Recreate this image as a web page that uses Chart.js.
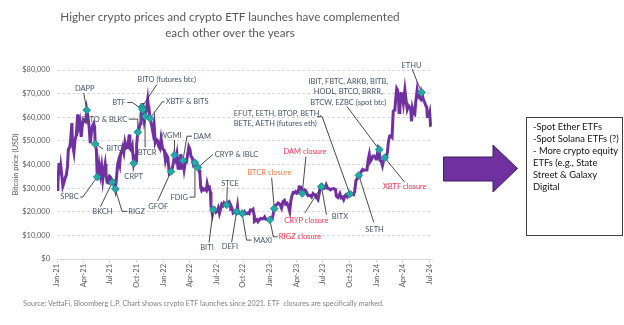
<!DOCTYPE html>
<html>
<head>
<meta charset="utf-8">
<script src="https://cdn.jsdelivr.net/npm/chart.js@4.4.1/dist/chart.umd.min.js"></script>
<style>
  html, body { margin: 0; padding: 0; background: #fff; }
  #wrap { position: relative; width: 624px; height: 325px; overflow: hidden; font-family: Lato, "Liberation Sans", sans-serif; }
  #chart { position: absolute; left: 0; top: 0; }
  #title { position: absolute; left: 0; top: 8px; width: 460px; text-align: center; font-size: 11.7px; line-height: 16px; color: #595959; }
  #source { position: absolute; left: 23px; top: 299px; font-size: 7.2px; color: #7f7f7f; white-space: nowrap; }
  #arrow { position: absolute; left: 0; top: 0; }
  #box { position: absolute; left: 526px; top: 117px; width: 97px; height: 119px; border: 1px solid #404040; box-sizing: border-box;
         padding: 3px 0 0 6px; font-size: 9.4px; line-height: 12px; color: #111; white-space: nowrap; }
</style>
</head>
<body>
<div id="wrap">
  <canvas id="chart" width="624" height="325"></canvas>
  <div id="title">Higher crypto prices and crypto ETF launches have complemented<br>each other over the years</div>
  <div id="source">Source: VettaFi, Bloomberg L.P. Chart shows crypto ETF launches since 2021. ETF&nbsp; closures are specifically marked.</div>
  <svg id="arrow" width="624" height="325">
    <polygon points="443.5,157 493,157 493,145 517.5,168.5 493,192 493,181 443.5,181" fill="#7030A0" stroke="#3f1f5f" stroke-width="1"/>
  </svg>
  <div id="box">-Spot Ether ETFs<br>-Spot Solana ETFs (?)<br>- More crypto equity<br>ETFs (e.g., State<br>Street &amp; Galaxy<br>Digital</div>
</div>
<script>
// bitcoin price (approximate closes)
const dates2021 = [
  '01-01','01-04','01-08','01-11','01-14','01-17','01-21','01-25','01-29','02-02',
  '02-06','02-09','02-13','02-16','02-21','02-23','02-28','03-04','03-08','03-13',
  '03-16','03-20','03-25','03-28','04-01','04-05','04-09','04-13','04-17','04-21',
  '04-25','04-29','05-03','05-07','05-10','05-12','05-16','05-19','05-23','05-26',
  '05-30','06-03','06-07','06-11','06-15','06-18','06-22','06-26','06-30','07-03',
  '07-07','07-10','07-14','07-17','07-20','07-24','07-28','07-31','08-04','08-07',
  '08-11','08-14','08-18','08-22','08-26','08-30','09-03','09-06','09-08','09-12',
  '09-16','09-21','09-25','09-29','10-01','10-05','10-09','10-13','10-16','10-19',
  '10-20','10-22','10-27','10-30','11-03','11-08','11-10','11-12','11-16','11-19',
  '11-22','11-26','11-30','12-04','12-08','12-12','12-16','12-20','12-24','12-28',
  '12-31'];
const close2021 = [
  29400,31900,40600,35500,39200,36000,30800,32300,34300,35500,
  39300,46400,47100,49200,57500,48800,45100,50500,52400,61200,
  56100,58300,51700,55900,59000,58700,58200,63000,60100,56100,
  49000,53500,56400,57400,55800,48700,46400,34700,34700,39300,
  35700,39200,33600,37300,40200,35800,32500,32200,35000,34700,
  33700,32500,32800,31400,29700,34300,40000,41600,39700,44600,
  45600,47100,45000,49300,46900,47100,50000,52700,46800,46100,
  47800,40500,42700,41500,48100,53700,54900,57300,60900,64300,
  66000,63200,58400,60400,62900,67500,64900,64100,59500,58100,
  56300,53600,57000,49300,50600,50100,47600,46700,50800,47600,
  46300];

const dates2022 = [
  '01-04','01-08','01-12','01-16','01-21','01-24','01-27','02-01','02-05','02-08',
  '02-12','02-16','02-20','02-24','02-28','03-02','03-06','03-09','03-13','03-17',
  '03-21','03-25','03-29','04-02','04-06','04-10','04-14','04-19','04-24','04-29',
  '05-03','05-06','05-09','05-12','05-16','05-20','05-24','05-28','05-31','06-04',
  '06-08','06-11','06-13','06-18','06-21','06-25','06-30','07-04','07-08','07-12',
  '07-16','07-20','07-24','07-28','08-01','08-06','08-10','08-14','08-18','08-20',
  '08-24','08-28','09-01','09-05','09-09','09-12','09-14','09-18','09-22','09-28',
  '10-02','10-06','10-10','10-14','10-18','10-22','10-26','10-30','11-04','11-08',
  '11-09','11-13','11-17','11-21','11-25','11-30','12-05','12-10','12-14','12-18',
  '12-22','12-27'];
const close2022 = [
  46000,41700,43900,43100,36300,36700,37000,38700,41400,44000,
  42200,44600,38400,38300,43200,44400,38400,41700,37800,40900,
  41000,44300,47500,46400,43200,42800,39900,40800,39500,38700,
  37700,36000,30100,29000,29800,29200,29600,29000,31800,29700,
  30200,28400,22500,19000,20900,21400,19800,20200,21600,19300,
  21200,23200,22600,23800,23300,22900,23900,24300,23300,21200,
  21500,19600,20100,19800,20000,22400,20200,19400,19400,19300,
  19300,20000,19100,19200,19500,19200,20700,20600,21100,18500,
  15900,16300,16700,15800,16500,17200,17000,17100,17800,16800,
  16800,16700];

const dates2023 = [
  '01-01','01-05','01-09','01-12','01-16','01-20','01-24','01-29','02-02','02-06',
  '02-10','02-15','02-20','02-24','03-01','03-05','03-10','03-14','03-18','03-22',
  '03-26','03-30','04-03','04-07','04-11','04-14','04-18','04-22','04-26','04-30',
  '05-04','05-08','05-12','05-16','05-20','05-24','05-29','06-02','06-06','06-10',
  '06-15','06-20','06-23','06-27','07-01','07-06','07-10','07-13','07-18','07-23',
  '07-28','08-02','08-08','08-14','08-17','08-22','08-29','09-02','09-07','09-11',
  '09-15','09-19','09-24','09-28','10-02','10-06','10-10','10-15','10-19','10-23',
  '10-27','11-02','11-06','11-09','11-15','11-20','11-25','11-30','12-04','12-08',
  '12-11','12-15','12-20','12-25','12-31'];
const close2023 = [
  16600,16800,17200,18800,21300,22700,22900,23700,23400,22800,
  21600,24300,24800,23200,23600,22400,20200,24700,26900,28200,
  28000,28500,27800,27900,30300,30500,30400,27700,28400,29300,
  29000,27700,26800,27000,26900,26300,27700,27200,27200,25900,
  25100,28300,30700,30600,30600,29900,30400,31400,29900,29800,
  29300,29700,29800,29400,26600,26000,27700,25900,26200,25100,
  26600,27200,26300,27000,27500,27900,27400,27200,28700,33100,
  33900,35400,35000,36700,37900,37500,37700,37700,41900,44200,
  41200,42000,43600,43600,42300];

const dates2024 = [
  '01-03','01-08','01-11','01-14','01-18','01-22','01-26','01-30','02-04','02-08',
  '02-12','02-16','02-20','02-24','02-28','03-03','03-05','03-08','03-11','03-14',
  '03-17','03-19','03-22','03-26','03-30','04-03','04-08','04-12','04-16','04-20',
  '04-24','04-28','05-01','05-04','05-08','05-12','05-15','05-20','05-24','05-28',
  '06-01','06-04','06-07','06-11','06-15','06-18','06-22','06-24','06-28','07-02',
  '07-05','07-08'];
const close2024 = [
  42800,47000,46300,41700,41300,39500,41800,42900,42600,45300,
  49900,52100,52200,51600,62400,63100,63800,68300,72100,71400,
  68400,62000,63800,70000,69900,66000,71600,67200,63400,64900,
  64300,63100,58300,63900,62000,61400,66200,71400,68500,68300,
  67700,70500,69300,67300,66200,65100,64300,60300,60300,62100,
  56600,56700];

// ETF launches / closures marked on the line
const launchLabels = [
  'DAPP', 'BITQ', 'SPBC', 'BKCH', 'RIGZ', 'CRPT', 'SATO & BLKC', 'BITO (futures btc)', 'BTF', 'BTCR',
  'XBTF & BITS', 'GFOF', 'WGMI', 'DAM', 'FDIG', 'CRYP & IBLC', 'BITI', 'STCE', 'DEFI', 'MAXI',
  'RIGZ closure', 'BTCR closure', 'DAM closure', 'CRYP closure', 'BITX',
  ['EFUT, EETH, BTOP, BETH,', 'BETE, AETH (futures eth)'], 'SETH',
  ['IBIT, FBTC, ARKB, BITB,', 'HODL, BTCO, BRRR,', 'BTCW, EZBC (spot btc)'], 'XBTF closure', 'ETHU'];
const launchDates = [
  '2021-04-13','2021-05-12','2021-05-19','2021-07-10','2021-07-20','2021-09-21','2021-10-05','2021-10-19','2021-10-22','2021-10-30',
  '2021-11-16','2022-01-27','2022-02-08','2022-03-09','2022-04-19','2022-04-29','2022-06-21','2022-08-06','2022-09-09','2022-09-28',
  '2023-01-01','2023-01-16','2023-04-22','2023-06-27','2023-06-27',
  '2023-10-02','2023-11-02','2024-01-11','2024-01-30','2024-06-04'];
const launchPrices = [
  63000,48700,34700,32500,29700,40500,53700,64300,63200,60400,
  59500,37000,44000,41700,40800,38700,20900,22900,20000,19300,
  16600,21300,27700,30600,30600,
  27500,35400,46300,42900,70500];

// axis ticks
const tickDates = ['2021-01-01','2021-04-01','2021-07-01','2021-10-01','2022-01-01','2022-04-01','2022-07-01','2022-10-01',
  '2023-01-01','2023-04-01','2023-07-01','2023-10-01','2024-01-01','2024-04-01','2024-07-01'];
const tickLabels = ['Jan-21','Apr-21','Jul-21','Oct-21','Jan-22','Apr-22','Jul-22','Oct-22',
  'Jan-23','Apr-23','Jul-23','Oct-23','Jan-24','Apr-24','Jul-24'];

const DAY0 = Date.UTC(2021, 0, 1);
const toDay = s => (Date.UTC(+s.slice(0, 4), +s.slice(5, 7) - 1, +s.slice(8, 10)) - DAY0) / 864e5;

const series = [];
[[2021, dates2021, close2021], [2022, dates2022, close2022], [2023, dates2023, close2023], [2024, dates2024, close2024]]
  .forEach(([yr, ds, vs]) => ds.forEach((d, i) => series.push({ x: toDay(yr + '-' + d), y: vs[i] })));

const markers = launchDates.map((d, i) => ({ x: toDay(d), y: launchPrices[i] }));

// where each label sits relative to its marker (px), and its leader line
const BLUE = '#44546A', RED = '#F5334F', ORANGE = '#EE7C4A';
const callouts = [
  { align: 'center', dx: -2, dy: -22, path: [[-3, -17], [0, 0]] },                       // DAPP
  { align: 'left', dx: 11, dy: 5, path: [[8, 5], [0, 0]] },                               // BITQ
  { align: 'right', dx: -18.5, dy: 20, path: [[-17, 20], [-14.5, 20], [0, 0]] },           // SPBC
  { align: 'center', dx: -10, dy: 29.5, path: [[-12, 24.5], [0, 0]] },                     // BKCH
  { align: 'left', dx: 13, dy: 22.5, path: [[12, 22.5], [6.7, 22.5], [0, 0]] },            // RIGZ
  { align: 'center', dx: 0, dy: 13, path: null },                                         // CRPT
  { align: 'right', dx: -10.5, dy: -13, path: [[-9, -13], [0, -13], [0, 0]] },             // SATO & BLKC
  { align: 'left', dx: -4.5, dy: -27.5, path: [[15, -22.5], [0, 0]] },                     // BITO
  { align: 'right', dx: -17, dy: -7.3, path: [[-15.5, -7.3], [-10.5, -7.3], [0, 0]] },     // BTF
  { align: 'center', dx: 2, dy: 36, path: [[0, 31], [0, 0]] },                             // BTCR
  { align: 'left', dx: 15.7, dy: -16.6, path: [[14.5, -16.6], [12.3, -16.6], [0, 0]] },    // XBTF & BITS
  { align: 'center', dx: -12.7, dy: 34.7, path: [[-13.4, 29.4], [0, 0]] },                 // GFOF
  { align: 'center', dx: -4, dy: -19.5, path: [[0, -15], [0, 0]] },                        // WGMI
  { align: 'left', dx: 10.3, dy: -24.3, path: [[9, -24.3], [4, -24.3], [0, 0]] },          // DAM
  { align: 'right', dx: -7, dy: 34.5, path: [[-5.5, 34.5], [0, 34.5], [0, 0]] },           // FDIG
  { align: 'left', dx: 17, dy: -13, path: [[15, -13], [0, 0]] },                           // CRYP & IBLC
  { align: 'center', dx: -6.3, dy: 37.7, path: [[-4.3, 33], [0, 0]] },                     // BITI
  { align: 'center', dx: 3.3, dy: -21.7, path: [[0.6, -18.4], [0, 0]] },                   // STCE
  { align: 'center', dx: -6.7, dy: 35.3, path: [[-5, 30.5], [0, 0]] },                     // DEFI
  { align: 'left', dx: 11, dy: 26.7, path: [[9.4, 26.7], [4.4, 26.7], [0, 0]] },           // MAXI
  { align: 'left', dx: 9, dy: 17, path: [[7.5, 17], [3.5, 17], [0, 0]], color: RED },      // RIGZ closure
  { align: 'center', dx: -4.8, dy: -36.3, path: [[-2.6, -31], [0, 0]], color: ORANGE },    // BTCR closure
  { align: 'center', dx: 2.7, dy: -42, path: [[3.7, -37], [0, 0]], color: RED },           // DAM closure
  { align: 'center', dx: -15.2, dy: 33.7, path: [[-16.7, 26.3], [0, 0]], color: RED },     // CRYP closure
  { align: 'left', dx: 10.3, dy: 30, path: [[5, 28], [0, 0]] },                            // BITX
  { align: 'left', dx: -116, dy: -80.7, path: [[-32.6, -77.3], [-27.6, -77.3], [0, 0]] },  // EFUT ...
  { align: 'center', dx: 15.7, dy: 54.7, path: [[15, 47], [0, 0]] },                       // SETH
  { align: 'center', dx: -31, dy: -68.3, path: [[-32.3, -43.3], [0, 0]] },                 // IBIT ...
  { align: 'center', dx: 20, dy: 29.4, path: [[20, 24.7], [0, 0]], color: RED },           // XBTF closure
  { align: 'center', dx: -10, dy: -27.3, path: [[-9.3, -23.3], [0, 0]] }                   // ETHU
];

const FAMILY = 'Lato, "Liberation Sans", sans-serif';
const GREY = '#595959';

const calloutPlugin = {
  id: 'callouts',
  afterDatasetDraw(chart, args) {
    if (args.index !== 1) return; // leaders go over the price line, under the markers
    const { ctx, scales: { x, y } } = chart;
    ctx.save();
    ctx.strokeStyle = '#333';
    ctx.lineWidth = 0.9;
    callouts.forEach((c, i) => {
      if (!c.path) return;
      const px = x.getPixelForValue(markers[i].x), py = y.getPixelForValue(markers[i].y);
      ctx.beginPath();
      c.path.forEach(([dx, dy], k) => k ? ctx.lineTo(px + dx, py + dy) : ctx.moveTo(px + dx, py + dy));
      ctx.stroke();
    });
    ctx.restore();
  },
  afterDatasetsDraw(chart) {
    const { ctx, scales: { x, y } } = chart;
    ctx.save();
    ctx.font = '7.5px ' + FAMILY;
    ctx.textBaseline = 'middle';
    callouts.forEach((c, i) => {
      const px = x.getPixelForValue(markers[i].x), py = y.getPixelForValue(markers[i].y);
      const lines = Array.isArray(launchLabels[i]) ? launchLabels[i] : [launchLabels[i]];
      ctx.fillStyle = c.color || BLUE;
      ctx.textAlign = c.align;
      lines.forEach((t, j) => ctx.fillText(t, px + c.dx, py + c.dy + j * 10.6));
    });
    ctx.restore();
  }
};

new Chart(document.getElementById('chart'), {
  type: 'line',
  data: {
    datasets: [
      {
        label: 'ETF launches',
        data: markers,
        showLine: false,
        pointStyle: 'rectRot',
        pointRadius: 3.8,
        backgroundColor: '#25A8A8',
        borderColor: '#1A8E8E',
        borderWidth: 1,
        order: 0
      },
      {
        label: 'Bitcoin price',
        data: series,
        borderColor: '#7030A0',
        borderWidth: 3,
        pointRadius: 0,
        tension: 0,
        order: 1
      }
    ]
  },
  options: {
    responsive: false,
    animation: false,
    layout: { padding: { top: 70, right: 192, bottom: 0, left: 0 } },
    plugins: { legend: { display: false }, tooltip: { enabled: false } },
    scales: {
      x: {
        type: 'linear',
        min: toDay('2021-01-01'),
        max: toDay('2024-07-10'),
        afterBuildTicks: s => { s.ticks = tickDates.map(d => ({ value: toDay(d) })); },
        afterFit: s => { s.height = 66; },
        ticks: {
          autoSkip: false, minRotation: 90, maxRotation: 90, padding: 1,
          font: { size: 7.5, family: FAMILY }, color: GREY,
          callback: (v, i) => tickLabels[i]
        },
        grid: { drawOnChartArea: false, color: '#D9D9D9', tickLength: 4 },
        border: { color: '#D9D9D9', width: 1 }
      },
      y: {
        min: 0,
        max: 80000,
        afterFit: s => { s.width = 57; },
        ticks: {
          stepSize: 10000, padding: 7,
          font: { size: 7.5, family: FAMILY }, color: GREY,
          callback: v => '$' + Number(v).toLocaleString('en-US')
        },
        grid: { color: '#D9D9D9', drawTicks: false },
        border: { display: false, dash: [3, 2] },
        title: { display: true, text: 'Bitcoin price (USD)', font: { size: 7.5, family: FAMILY }, color: GREY, padding: { top: 11, bottom: 0 } }
      }
    }
  },
  plugins: [calloutPlugin]
});
</script>
</body>
</html>
